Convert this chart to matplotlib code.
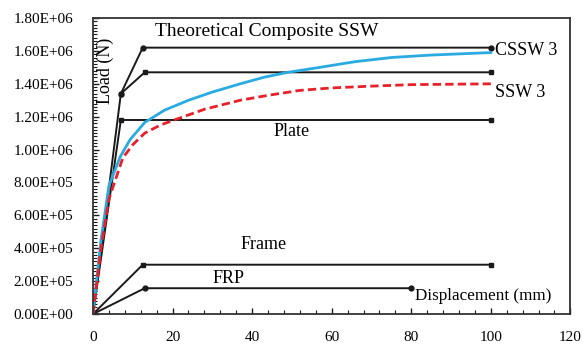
import matplotlib
matplotlib.use("Agg")
import matplotlib.pyplot as plt
import matplotlib.ticker as ticker

plt.rcParams["font.family"] = ["Liberation Serif", "DejaVu Serif"]

# experimental curves
cssw_x = [0, 2, 4, 6.8, 9.3, 13, 18, 24, 30, 37, 43, 49, 57, 66, 75, 85, 100]
cssw_y = [0, 0.45e6, 0.78e6, 0.955e6, 1.06e6, 1.165e6, 1.24e6, 1.30e6, 1.35e6,
          1.40e6, 1.44e6, 1.47e6, 1.50e6, 1.535e6, 1.56e6, 1.575e6, 1.59e6]
ssw_x = [0, 2, 4, 7.5, 10, 13, 17, 21, 28, 37, 44, 52, 60, 69, 80, 100]
ssw_y = [0, 0.40e6, 0.70e6, 0.95e6, 1.03e6, 1.10e6, 1.15e6, 1.185e6, 1.245e6,
         1.30e6, 1.33e6, 1.36e6, 1.375e6, 1.385e6, 1.395e6, 1.40e6]

# theoretical bilinear curves
theo_x = [0, 7, 12.5, 100]
theo_y = [0, 1.34e6, 1.62e6, 1.62e6]
comb_x = [7, 13, 100]
comb_y = [1.34e6, 1.47e6, 1.47e6]
plate_x = [0, 7, 100]
plate_y = [0, 1.18e6, 1.18e6]
frame_x = [0, 12.5, 100]
frame_y = [0, 3.0e5, 3.0e5]
frp_x = [0, 13, 80]
frp_y = [0, 1.57e5, 1.57e5]

fig = plt.figure(figsize=(5.85, 3.47), dpi=100)
ax = fig.add_axes([0.159, 0.095, 0.816, 0.853])

k = "#1a1a1a"
ax.plot(theo_x, theo_y, color=k, lw=1.4, marker="o", ms=3.5)
ax.plot(comb_x, comb_y, color=k, lw=1.4, marker="s", ms=3)
ax.plot(plate_x, plate_y, color=k, lw=1.4, marker="s", ms=3.5)
ax.plot(frame_x, frame_y, color=k, lw=1.4, marker="s", ms=3.5)
ax.plot(frp_x, frp_y, color=k, lw=1.4, marker="o", ms=3.5)
ax.plot(cssw_x, cssw_y, color="#29abe2", lw=2.0)
ax.plot(ssw_x, ssw_y, color="#e8202a", lw=2.0, ls=(0, (3, 1.5)))

ax.set_xlim(0, 120)
ax.set_ylim(0, 1.8e6)
ax.xaxis.set_major_locator(ticker.MultipleLocator(20))
ax.xaxis.set_minor_locator(ticker.MultipleLocator(4))
ax.yaxis.set_major_locator(ticker.MultipleLocator(2e5))
ax.yaxis.set_minor_locator(ticker.MultipleLocator(2e4))
ax.yaxis.set_major_formatter(ticker.FuncFormatter(lambda v, p: f"{v:.2E}"))
ax.tick_params(which="both", direction="in", labelsize=11, color=k)
ax.tick_params(which="major", length=4, width=1)
ax.tick_params(which="minor", length=3, width=0.8)
ax.tick_params(axis="x", pad=12)
ax.tick_params(axis="y", pad=14)
for s in ax.spines.values():
    s.set_color("#333333")
    s.set_linewidth(1.3)

fs = 13
ax.text(15.5, 1.665e6, "Theoretical Composite SSW", fontsize=14, va="bottom")
ax.text(50, 1.11e6, "Plate", fontsize=fs, ha="center", va="center")
ax.text(43, 4.25e5, "Frame", fontsize=fs, ha="center", va="center")
ax.text(34, 2.15e5, "FRP", fontsize=fs, ha="center", va="center")
ax.text(101, 1.605e6, "CSSW 3", fontsize=fs, va="center")
ax.text(101, 1.345e6, "SSW 3", fontsize=fs, va="center")
ax.text(81, 1.1e5, "Displacement (mm)", fontsize=12.3, va="center")
ax.text(3.2, 1.48e6, "Load (N)", fontsize=fs, rotation=90, ha="center", va="center")

fig.savefig("out.png", dpi=100)
